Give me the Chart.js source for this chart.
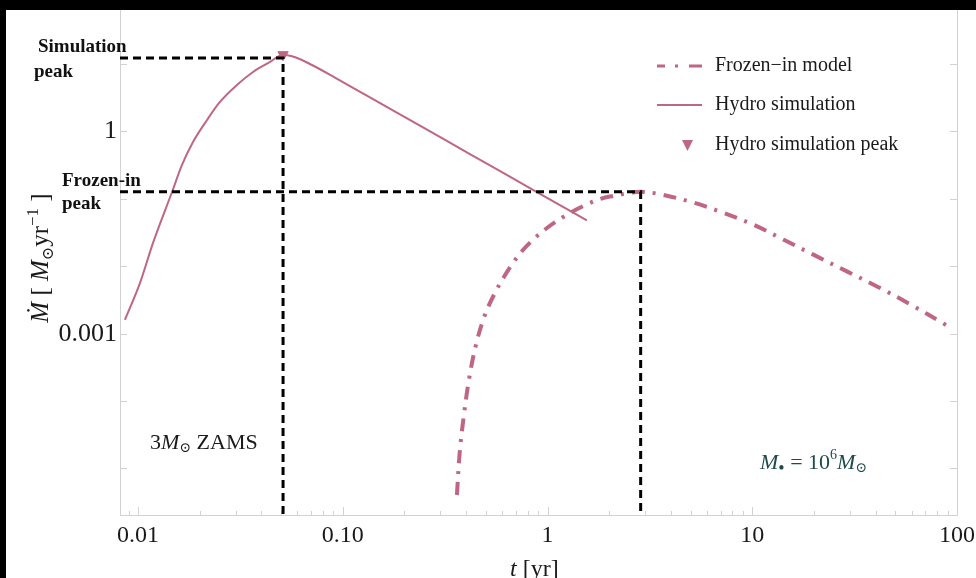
<!DOCTYPE html>
<html>
<head>
<meta charset="utf-8">
<script src="https://cdn.jsdelivr.net/npm/chart.js@4.4.0/dist/chart.umd.min.js"></script>
<style>
  html, body { margin: 0; padding: 0; background: #000; }
  #wrap { position: absolute; left: 6px; top: 10px; width: 970px; height: 568px; background: #fff; }
</style>
</head>
<body>
<div id="wrap"><canvas id="mdot_chart" width="970" height="568"></canvas></div>
<script>
// hydro simulation, t [yr] and Mdot [Msun/yr]
var hydro_t = [0.00863, 0.01023, 0.01184, 0.01466, 0.0164, 0.01856, 0.02174, 0.02512, 0.03041, 0.03645, 0.04413,
  0.0511, 0.05908, 0.07073, 0.0916, 0.1358, 0.2382, 0.4179, 0.8875, 1.557];
var hydro_mdot = [1.6e-3, 5.66e-3, 0.0223, 0.1265, 0.3185, 0.6986, 1.483, 2.742, 4.898, 7.64, 10.75,
  13.8, 12.53, 9.7, 6.32, 3.21, 1.219, 0.4634, 0.1265, 0.0481];

// frozen-in model
var frozen_t = [0.361, 0.3735, 0.3906, 0.4132, 0.447, 0.4945, 0.5534, 0.6124, 0.6777, 0.7587, 0.8681, 0.9933,
  1.183, 1.339, 1.571, 1.816, 2.103, 2.547, 2.851, 3.451, 5.0, 7.01, 10.17, 14.26, 19.99, 29.3, 41.1, 57.5, 88.3];
var frozen_mdot = [4.04e-6, 1.88e-5, 6.22e-5, 2.06e-4, 6.8e-4, 1.89e-3, 4.02e-3, 6.93e-3, 0.01119, 0.01746, 0.0263,
  0.037, 0.053, 0.066, 0.084, 0.1002, 0.111, 0.1233, 0.1277, 0.119, 0.0906, 0.0643, 0.0412, 0.0247, 0.01476,
  8.26e-3, 4.94e-3, 2.86e-3, 1.35e-3];

// peaks
var sim_peak = [0.0511, 13.8];
var sim_peak_level = 12.3;
var frozen_peak = [2.851, 0.128];

// axes
var x_min = 0.008167, x_max = 100;
var y_min = 2.04e-6, y_max = 63.5;
var x_ticks = [0.01, 0.1, 1, 10, 100];
var x_tick_labels = ['0.01', '0.10', '1', '10', '100'];
var y_ticks = [0.001, 1];
var y_tick_labels = ['0.001', '1'];
var y_decades = [1e-5, 1e-4, 1e-3, 1e-2, 1e-1, 1, 10];

var pink = '#bf6686';
var frame_color = '#d2d2d2';
var serif = "'Liberation Serif', 'DejaVu Serif', serif";

var to_points = function(xs, ys) {
  var out = [];
  for (var i = 0; i < xs.length; i++) {
    out.push({x: xs[i], y: ys[i]});
  }
  return out;
};

var draw_runs = function(ctx, runs, x, y) {
  for (var i = 0; i < runs.length; i++) {
    ctx.font = runs[i].font;
    ctx.fillText(runs[i].text, x, y + (runs[i].dy || 0));
    x += ctx.measureText(runs[i].text).width;
  }
  return x;
};

var runs_width = function(ctx, runs) {
  var w = 0;
  for (var i = 0; i < runs.length; i++) {
    ctx.font = runs[i].font;
    w += ctx.measureText(runs[i].text).width;
  }
  return w;
};

var no_scale_padding = function(scale) {
  scale.paddingTop = 0;
  scale.paddingBottom = 0;
  scale.paddingLeft = 0;
  scale.paddingRight = 0;
};

// inner ticks + right frame, notes, legend
var frame_plugin = {
  id: 'frame',
  beforeDatasetsDraw: function(chart) {
    var ctx = chart.ctx;
    var area = chart.chartArea;
    var xs = chart.scales.x, ys = chart.scales.y;
    ctx.save();
    ctx.strokeStyle = frame_color;
    ctx.lineWidth = 1;
    ctx.beginPath();
    ctx.moveTo(area.right + 0.5, area.top);
    ctx.lineTo(area.right + 0.5, area.bottom);
    for (var d = -3; d <= 2; d++) {
      for (var m = 1; m <= 9; m++) {
        var v = m * Math.pow(10, d);
        if (v < x_min || v > x_max) continue;
        var px = Math.round(xs.getPixelForValue(v)) + 0.5;
        var len = m == 1 ? 8 : 4;
        ctx.moveTo(px, area.bottom);
        ctx.lineTo(px, area.bottom - len);
      }
    }
    for (var i = 0; i < y_decades.length; i++) {
      var py = Math.round(ys.getPixelForValue(y_decades[i])) + 0.5;
      ctx.moveTo(area.left, py);
      ctx.lineTo(area.left + 7, py);
      ctx.moveTo(area.right, py);
      ctx.lineTo(area.right - 7, py);
    }
    ctx.stroke();
    ctx.restore();
  },
  afterDraw: function(chart) {
    var ctx = chart.ctx;
    var ds = chart.data.datasets;
    ctx.save();
    ctx.fillStyle = '#111';
    ctx.textBaseline = 'middle';

    // peak notes
    ctx.font = 'bold 19px ' + serif;
    ctx.fillText('Simulation', 32, 37);
    ctx.fillText('peak', 28, 62);
    ctx.fillText('Frozen-in', 56, 171);
    ctx.fillText('peak', 56, 194);

    // star label
    ctx.fillStyle = '#1a1a1a';
    draw_runs(ctx, [
      {text: '3', font: '22px ' + serif},
      {text: 'M', font: 'italic 22px ' + serif},
      {text: '\u2299', font: '14px ' + serif, dy: 5},
      {text: ' ZAMS', font: '22px ' + serif}
    ], 144, 433);

    // black hole mass
    ctx.fillStyle = '#1e4a4a';
    draw_runs(ctx, [
      {text: 'M', font: 'italic 22px ' + serif},
      {text: '\u2022', font: '18px ' + serif, dy: 6},
      {text: ' = 10', font: '22px ' + serif},
      {text: '6', font: '14px ' + serif, dy: -8},
      {text: 'M', font: 'italic 22px ' + serif},
      {text: '\u2299', font: '14px ' + serif, dy: 5}
    ], 754, 453);

    // axis titles
    ctx.fillStyle = '#1a1a1a';
    ctx.textBaseline = 'alphabetic';
    draw_runs(ctx, [
      {text: 't', font: 'italic 24px ' + serif},
      {text: ' [yr]', font: '24px ' + serif}
    ], 504, 566);

    var y_title = [
      {text: '\u1E40', font: 'italic 25px ' + serif},
      {text: ' [ ', font: '25px ' + serif},
      {text: 'M', font: 'italic 25px ' + serif},
      {text: '\u2299', font: '16px ' + serif, dy: 5},
      {text: 'yr', font: '25px ' + serif},
      {text: '\u22121', font: '17px ' + serif, dy: -10},
      {text: ' ]', font: '25px ' + serif}
    ];
    ctx.save();
    ctx.translate(42, 248);
    ctx.rotate(-Math.PI / 2);
    draw_runs(ctx, y_title, -runs_width(ctx, y_title) / 2, 0);
    ctx.restore();

    // legend
    var lx0 = 651, lx1 = 696, tx = 709;
    var rows = [56, 95, 135];
    ctx.textBaseline = 'middle';
    ctx.font = '20px ' + serif;
    ctx.fillStyle = '#1a1a1a';
    ctx.fillText(ds[3].label, tx, rows[0]);
    ctx.fillText(ds[2].label, tx, rows[1]);
    ctx.fillText(ds[1].label, tx, rows[2]);

    ctx.strokeStyle = ds[3].borderColor;
    ctx.lineWidth = 3;
    ctx.setLineDash([8, 10, 3, 11, 14]);
    ctx.beginPath();
    ctx.moveTo(lx0, rows[0]);
    ctx.lineTo(lx1, rows[0]);
    ctx.stroke();

    ctx.setLineDash([]);
    ctx.strokeStyle = ds[2].borderColor;
    ctx.lineWidth = ds[2].borderWidth;
    ctx.beginPath();
    ctx.moveTo(lx0, rows[1]);
    ctx.lineTo(lx1, rows[1]);
    ctx.stroke();

    ctx.fillStyle = ds[1].backgroundColor;
    ctx.beginPath();
    ctx.moveTo(676, rows[2] - 5);
    ctx.lineTo(687, rows[2] - 5);
    ctx.lineTo(681.5, rows[2] + 6);
    ctx.closePath();
    ctx.fill();
    ctx.restore();
  }
};

var ctx = document.getElementById('mdot_chart').getContext('2d');
var mdot_chart = new Chart(ctx, {
  type: 'line',
  data: {
    datasets: [
      {
        label: 'Simulation peak guide',
        data: [{x: x_min, y: sim_peak_level}, {x: sim_peak[0], y: sim_peak_level}, {x: sim_peak[0], y: y_min}],
        borderColor: '#000', borderWidth: 3, borderDash: [8, 5], pointRadius: 0, tension: 0, order: 0
      },
      {
        label: 'Hydro simulation peak',
        data: [{x: sim_peak[0], y: sim_peak[1]}],
        showLine: false, pointStyle: 'triangle', rotation: 180, pointRadius: 6,
        backgroundColor: pink, borderColor: pink, borderWidth: 1, order: 1
      },
      {
        label: 'Hydro simulation',
        data: to_points(hydro_t, hydro_mdot),
        borderColor: pink, borderWidth: 2, pointRadius: 0, cubicInterpolationMode: 'monotone', order: 2
      },
      {
        label: 'Frozen\u2212in model',
        data: to_points(frozen_t, frozen_mdot),
        borderColor: pink, borderWidth: 4, borderDash: [13, 8, 3, 8], pointRadius: 0,
        tension: 0.35, order: 3
      },
      {
        label: 'Frozen-in peak guide',
        data: [{x: x_min, y: frozen_peak[1]}, {x: frozen_peak[0], y: frozen_peak[1]}, {x: frozen_peak[0], y: y_min}],
        borderColor: '#000', borderWidth: 3, borderDash: [8, 5], pointRadius: 0, tension: 0, order: 0
      }
    ]
  },
  options: {
    responsive: false,
    animation: false,
    layout: { autoPadding: false, padding: { top: 0, right: 19, bottom: 0, left: 0 } },
    plugins: {
      legend: { display: false },
      tooltip: { enabled: false }
    },
    scales: {
      x: {
        type: 'logarithmic',
        min: x_min,
        max: x_max,
        afterBuildTicks: function(scale) {
          scale.ticks = x_ticks.map(function(v) { return {value: v}; });
        },
        afterFit: function(scale) {
          scale.height = 63;
          no_scale_padding(scale);
        },
        grid: { display: false, drawTicks: false },
        border: { display: true, color: frame_color, width: 1 },
        ticks: {
          autoSkip: false, maxRotation: 0, padding: 6, color: '#1a1a1a',
          font: { family: serif, size: 24 },
          callback: function(v) {
            var i = x_ticks.indexOf(v);
            return i < 0 ? '' : x_tick_labels[i];
          }
        }
      },
      y: {
        type: 'logarithmic',
        min: y_min,
        max: y_max,
        afterBuildTicks: function(scale) {
          scale.ticks = y_ticks.map(function(v) { return {value: v}; });
        },
        afterFit: function(scale) {
          scale.width = 114;
          no_scale_padding(scale);
        },
        grid: { display: false, drawTicks: false },
        border: { display: true, color: frame_color, width: 1 },
        ticks: {
          autoSkip: false, padding: 3, color: '#1a1a1a',
          font: { family: serif, size: 26 },
          callback: function(v) {
            var i = y_ticks.indexOf(v);
            return i < 0 ? '' : y_tick_labels[i];
          }
        }
      }
    }
  },
  plugins: [frame_plugin]
});
</script>
</body>
</html>
